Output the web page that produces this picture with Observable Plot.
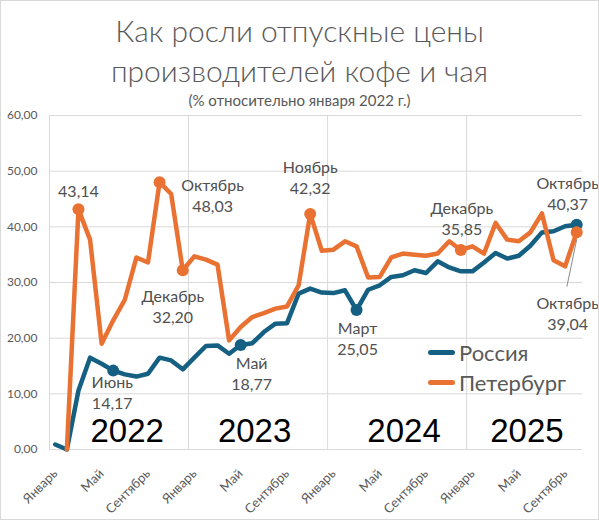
<!DOCTYPE html>
<html><head><meta charset="utf-8">
<script src="https://cdn.jsdelivr.net/npm/d3@7"></script>
<script src="https://cdn.jsdelivr.net/npm/@observablehq/plot@0.6"></script>
<style>
body{margin:0;background:#fff;}
#wrap{position:relative;width:599px;height:520px;overflow:hidden;font-family:Lato,"Open Sans",sans-serif;background:#fff;}
#chart{position:absolute;left:0;top:0;}
#frame{position:absolute;left:0;top:0;width:597px;height:518px;border:1px solid #d9d9d9;pointer-events:none;}
.t{position:absolute;left:0;width:599px;text-align:center;color:#595959;white-space:nowrap;font-weight:300;}
.lg{position:absolute;left:428px;height:28px;display:flex;align-items:center;font-size:22px;color:#595959;}
.sw{width:27px;height:5px;border-radius:3px;margin-right:4px;}
</style></head><body>
<div id="wrap">
  <div id="chart"></div>
  <div class="t" style="top:12px;font-size:30px;line-height:36px">Как росли отпускные цены</div>
  <div class="t" style="top:52px;font-size:30px;line-height:36px">производителей кофе и чая</div>
  <div class="t" style="top:91px;font-size:15px;line-height:18px;font-weight:400">(% относительно января 2022 г.)</div>
  <div class="lg" style="top:338px"><div class="sw" style="background:#156082"></div>Россия</div>
  <div class="lg" style="top:368px"><div class="sw" style="background:#E97132"></div>Петербург</div>
  <div id="frame"></div>
</div>
<script>
// Monthly index values, January 2022 … October 2025 (46 months)
const russia = [0.9, 0, 10.6, 16.5, 15.4, 14.17, 13.5, 13.1, 13.6, 16.5, 16.0, 14.4,
  16.5, 18.6, 18.7, 17.2, 18.77, 19.1, 21.1, 22.6, 22.7, 28.0, 28.9, 28.2,
  28.1, 28.6, 25.05, 28.7, 29.5, 31.0, 31.3, 32.2, 31.7, 33.8, 32.7, 32.0,
  32.0, 33.6, 35.3, 34.3, 34.8, 36.6, 39.0, 39.2, 40.1, 40.37];
const petersburg = [null, 0, 43.14, 37.7, 19.0, 23.2, 26.9, 34.5, 33.6, 48.03, 45.9, 32.20,
  34.7, 34.1, 33.2, 19.6, 22.0, 23.8, 24.5, 25.3, 25.7, 29.5, 42.32, 35.7,
  35.9, 37.4, 36.5, 30.9, 31.0, 34.5, 35.2, 35.0, 34.8, 35.2, 37.4, 35.85,
  36.5, 35.2, 40.7, 37.7, 37.4, 39.0, 42.4, 34.0, 32.9, 39.04];

const tickIdx = [0, 4, 8, 12, 16, 20, 24, 28, 32, 36, 40, 44];
const tickLabels = ["Январь","Май","Сентябрь","Январь","Май","Сентябрь","Январь","Май","Сентябрь","Январь","Май","Сентябрь"];
const yTicks = [0, 10, 20, 30, 40, 50, 60];
const years = ["2022", "2023", "2024", "2025"];

// Annotated points
const annSeries = ["p", "p", "p", "r", "r", "p", "r", "p", "r", "p"];
const annIdx    = [2, 9, 11, 5, 16, 22, 26, 35, 45, 45];
const annMonth  = ["", "Октябрь", "Декабрь", "Июнь", "Май", "Ноябрь", "Март", "Декабрь", "Октябрь", "Октябрь"];

// Layout config (pixel offsets of labels relative to markers)
const annOffset = [[0,-19],[53,13],[-10,36],[-1,21.5],[11,28],[0,-37],[1,27.5],[1,-32],[-9,-32],[-9,81]];
const yearPos = [6.2, 17.2, 30.1, 40.7];
const yearBounds = [-0.5, 11.5, 23.5, 35.5];
const BLUE = "#156082", ORANGE = "#E97132";

const fmt = v => v.toFixed(2).replace(".", ",");
const series = {r: russia, p: petersburg};
const ann = annIdx.map((i, k) => ({
  i, v: series[annSeries[k]][i], s: annSeries[k],
  text: (annMonth[k] ? annMonth[k] + "\n" : "") + fmt(series[annSeries[k]][i]),
  dx: annOffset[k][0], dy: annOffset[k][1]
}));
const dotsR = ann.filter(a => a.s === "r");
const dotsP = ann.filter(a => a.s === "p");
const leader = ann.filter((a, k) => k === 9);

const chart = Plot.plot({
  width: 599, height: 520,
  marginTop: 115, marginBottom: 71, marginLeft: 49, marginRight: 17,
  style: {fontFamily: "Lato, 'Open Sans', sans-serif", background: "transparent", overflow: "visible"},
  x: {domain: [-0.5, 45.5], axis: null},
  y: {domain: [0, 60], axis: null},
  marks: [
    Plot.ruleY(yTicks, {stroke: "#d9d9d9", strokeWidth: 1}),
    Plot.ruleX(yearBounds, {stroke: "#d9d9d9", strokeWidth: 1}),
    Plot.axisY({ticks: yTicks, tickSize: 0, tickPadding: 12, tickFormat: fmt, fontSize: 12, color: "#595959", label: null}),
    Plot.axisX({ticks: tickIdx, tickFormat: d => tickLabels[tickIdx.indexOf(d)], tickRotate: -45,
      tickSize: 0, tickPadding: 22, fontSize: 13, color: "#595959", label: null}),
    Plot.text(years, {x: yearPos, y: years.map(() => 1.4), text: d => d, fontSize: 33,
      fontFamily: "'Liberation Sans', Arial, sans-serif", fill: "#000", lineAnchor: "bottom"}),
    Plot.link(leader, {x1: "i", y1: d => d.v - 1.3, x2: d => d.i - 0.85, y2: d => d.v - 9.8, stroke: "#8c8c8c", strokeWidth: 1}),
    Plot.line(russia, {x: (d, i) => i, y: d => d, stroke: BLUE, strokeWidth: 4.5, strokeLinejoin: "round", strokeLinecap: "round"}),
    Plot.dot(dotsR, {x: "i", y: "v", r: 6, fill: BLUE}),
    Plot.line(petersburg, {x: (d, i) => i, y: d => d, stroke: ORANGE, strokeWidth: 4.5, strokeLinejoin: "round", strokeLinecap: "round"}),
    Plot.dot(dotsP, {x: "i", y: "v", r: 6, fill: ORANGE}),
    ...ann.map(a => Plot.text([a], {x: "i", y: "v", text: "text", dx: a.dx, dy: a.dy,
      fontSize: 16, lineHeight: 1.31, lineAnchor: "middle", fill: "#505050"}))
  ]
});
document.getElementById("chart").appendChild(chart);
</script>
</body></html>
